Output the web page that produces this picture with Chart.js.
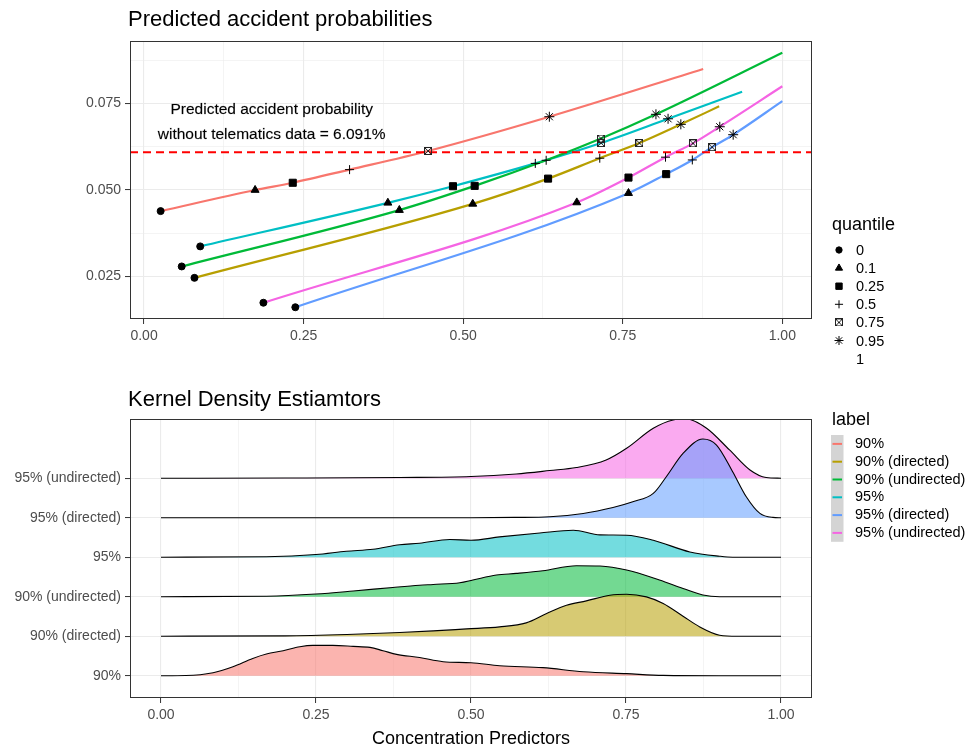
<!DOCTYPE html>
<html>
<head>
<meta charset="utf-8">
<script src="https://cdn.jsdelivr.net/npm/chart.js@4.4.1/dist/chart.umd.min.js"></script>
<style>
  body { margin: 0; background: #fff; font-family: "Liberation Sans", Arial, Helvetica, sans-serif; }
  #wrap { position: relative; width: 969px; height: 747px; overflow: hidden; }
  canvas { position: absolute; left: 0; }
  .t { position: absolute; line-height: 1; white-space: nowrap; color: #000; }
  .title { font-size: 22px; }
  .ltitle { font-size: 18px; }
  .item { font-size: 14.5px; }
</style>
</head>
<body>
<div id="wrap">
  <canvas id="probChart" width="969" height="360" style="top:0"></canvas>
  <canvas id="ridgeChart" width="969" height="377" style="top:370px"></canvas>
  <div class="t title" style="left:128px;top:8px">Predicted accident probabilities</div>
  <div class="t title" style="left:128px;top:388px">Kernel Density Estiamtors</div>
  <div class="t ltitle" style="left:832px;top:215px">quantile</div>
  <div id="qLegend"></div>
  <div class="t ltitle" style="left:832px;top:410px">label</div>
  <div id="lLegend"></div>
  <div class="t ltitle" style="left:471px;top:729px;transform:translateX(-50%)">Concentration Predictors</div>
</div>
<script>
// categories
const labels = ['90%', '90% (directed)', '90% (undirected)', '95%', '95% (directed)', '95% (undirected)'];
const colors = ['#F8766D', '#B79F00', '#00BA38', '#00BFC4', '#619CFF', '#F564E3'];
const quantiles = ['0', '0.1', '0.25', '0.5', '0.75', '0.95', '1'];
const baseProb = 0.06091;

// top panel: concentration predictor and predicted probability at each quantile
const conc_90  = [0.026, 0.174, 0.233, 0.322, 0.445, 0.635, 0.876];
const prob_90  = [0.0439, 0.0500, 0.0521, 0.0559, 0.0613, 0.0712, 0.0850];
const conc_90d = [0.079, 0.515, 0.633, 0.714, 0.776, 0.841, 0.901];
const prob_90d = [0.0246, 0.0460, 0.0533, 0.0592, 0.0636, 0.0690, 0.0742];
const conc_90u = [0.059, 0.400, 0.518, 0.630, 0.716, 0.802, 1.000];
const prob_90u = [0.0279, 0.0442, 0.0512, 0.0586, 0.0649, 0.0719, 0.0897];
const conc_95  = [0.088, 0.382, 0.484, 0.613, 0.716, 0.821, 0.937];
const prob_95  = [0.0337, 0.0463, 0.0511, 0.0577, 0.0636, 0.0706, 0.0784];
const conc_95d = [0.237, 0.759, 0.818, 0.859, 0.890, 0.923, 1.000];
const prob_95d = [0.0161, 0.0491, 0.0546, 0.0587, 0.0624, 0.0660, 0.0757];
const conc_95u = [0.187, 0.678, 0.759, 0.817, 0.860, 0.902, 1.000];
const prob_95u = [0.0174, 0.0464, 0.0536, 0.0595, 0.0635, 0.0683, 0.0800];

// bottom panel: kernel densities (height in row units)
const kx_90  = [0, 0.04, 0.084, 0.116, 0.148, 0.17, 0.197, 0.224, 0.245, 0.277, 0.31, 0.337, 0.358, 0.38, 0.417, 0.455, 0.5, 0.546, 0.616, 0.681, 0.751, 0.81, 0.9, 1];
const kd_90  = [0, 0.005, 0.076, 0.228, 0.438, 0.549, 0.633, 0.734, 0.767, 0.767, 0.742, 0.716, 0.633, 0.539, 0.461, 0.354, 0.329, 0.253, 0.203, 0.101, 0.051, 0.008, 0, 0];
const kx_90d = [0, 0.2, 0.3, 0.385, 0.439, 0.493, 0.546, 0.589, 0.622, 0.654, 0.686, 0.724, 0.751, 0.783, 0.81, 0.842, 0.869, 0.901, 0.93, 1];
const kd_90d = [0, 0.008, 0.043, 0.094, 0.134, 0.185, 0.235, 0.337, 0.575, 0.785, 0.894, 1.038, 1.063, 0.995, 0.828, 0.506, 0.235, 0.025, 0, 0];
const kx_90u = [0, 0.17, 0.25, 0.31, 0.374, 0.417, 0.439, 0.482, 0.503, 0.541, 0.573, 0.616, 0.67, 0.708, 0.751, 0.804, 0.842, 0.874, 0.901, 1];
const kd_90u = [0, 0.013, 0.068, 0.144, 0.235, 0.291, 0.311, 0.354, 0.423, 0.549, 0.59, 0.658, 0.785, 0.777, 0.676, 0.423, 0.21, 0.043, 0, 0];
const kx_95  = [0, 0.17, 0.25, 0.299, 0.342, 0.385, 0.417, 0.466, 0.5, 0.546, 0.611, 0.665, 0.708, 0.751, 0.794, 0.853, 0.901, 0.922, 1];
const kd_95  = [0, 0.013, 0.068, 0.152, 0.203, 0.316, 0.354, 0.448, 0.43, 0.514, 0.615, 0.684, 0.565, 0.557, 0.43, 0.134, 0.025, 0, 0];
const kx_95d = [0, 0.5, 0.57, 0.627, 0.681, 0.729, 0.761, 0.794, 0.815, 0.842, 0.874, 0.896, 0.922, 0.944, 0.966, 0.987, 1];
const kd_95d = [0, 0, 0.008, 0.025, 0.109, 0.261, 0.405, 0.615, 1.038, 1.628, 1.992, 1.841, 1.165, 0.532, 0.109, 0.008, 0];
const kx_95u = [0, 0.2, 0.385, 0.5, 0.573, 0.627, 0.67, 0.718, 0.751, 0.794, 0.826, 0.847, 0.88, 0.917, 0.95, 0.976, 1];
const kd_95u = [0, 0.005, 0.018, 0.043, 0.109, 0.195, 0.271, 0.463, 0.759, 1.266, 1.476, 1.501, 1.266, 0.716, 0.21, 0.018, 0];

// tick values
const xTickVals = [0, 0.125, 0.25, 0.375, 0.5, 0.625, 0.75, 0.875, 1];
const yTickVals = [0.025, 0.0375, 0.05, 0.0625, 0.075, 0.0875];

const noteLines = ['Predicted accident probability', 'without telematics data = 6.091%'];

const concSets = [conc_90, conc_90d, conc_90u, conc_95, conc_95d, conc_95u];
const probSets = [prob_90, prob_90d, prob_90u, prob_95, prob_95d, prob_95u];
const kxSets = [kx_90, kx_90d, kx_90u, kx_95, kx_95d, kx_95u];
const kdSets = [kd_90, kd_90d, kd_90u, kd_95, kd_95d, kd_95u];

const FONT = "'Liberation Sans', Arial, Helvetica, sans-serif";
Chart.defaults.font.family = FONT;
Chart.defaults.font.size = 14;
Chart.defaults.color = '#4d4d4d';
Chart.defaults.animation = false;

// square with a cross inside (ggplot shape 7)
function boxCross() {
    const c = document.createElement('canvas');
    c.width = 8; c.height = 8;
    const g = c.getContext('2d');
    g.strokeStyle = '#222';
    g.lineWidth = 1;
    g.strokeRect(0.5, 0.5, 7, 7);
    g.beginPath();
    g.moveTo(1, 1); g.lineTo(7, 7);
    g.moveTo(7, 1); g.lineTo(1, 7);
    g.stroke();
    return c;
}
const markerStyles = ['circle', 'triangle', 'rect', 'cross', boxCross(), 'star'];
const markerRadius = [3.5, 4.6, 5, 4.5, 4, 5];

const onStep = (v, step) => Math.abs(v / step - Math.round(v / step)) < 1e-6;

function xAxis(min, max, h) {
    return {
        type: 'linear', min: min, max: max,
        afterBuildTicks: s => { s.ticks = xTickVals.map(v => ({ value: v })); },
        afterFit: s => { s.height = h; },
        ticks: { autoSkip: false, maxRotation: 0, padding: 4,
                 callback: v => onStep(v, 0.25) ? v.toFixed(2) : '' },
        grid: {
            color: '#ebebeb',
            lineWidth: c => (c.tick && !onStep(c.tick.value, 0.25)) ? 0.55 : 1.1,
            tickLength: 5, tickWidth: 1,
            tickColor: c => (c.tick && !onStep(c.tick.value, 0.25)) ? 'rgba(0,0,0,0)' : '#333'
        },
        border: { display: false }
    };
}

const panelBorder = {
    id: 'panelBorder',
    afterDraw(chart) {
        const { ctx, chartArea: a } = chart;
        ctx.save();
        ctx.strokeStyle = '#333';
        ctx.lineWidth = 1;
        ctx.strokeRect(Math.round(a.left) + 0.5, Math.round(a.top) + 0.5,
                       Math.round(a.right - a.left) - 1, Math.round(a.bottom - a.top) - 1);
        ctx.restore();
    }
};

// ---------- top panel ----------
const probDatasets = [];
labels.forEach((lab, i) => {
    probDatasets.push({
        label: lab,
        data: concSets[i].map((x, j) => ({ x: x, y: probSets[i][j] })),
        showLine: true,
        borderColor: colors[i],
        borderWidth: 2.2,
        pointRadius: 0,
        cubicInterpolationMode: 'monotone',
        order: 3
    });
});
probDatasets.push({
    label: 'baseline',
    data: [{ x: -0.022, y: baseProb }, { x: 1.0465, y: baseProb }],
    showLine: true,
    borderColor: '#ff0000',
    borderWidth: 2,
    borderDash: [8, 5],
    pointRadius: 0,
    order: 2
});
markerStyles.forEach((st, q) => {
    probDatasets.push({
        label: 'q' + quantiles[q],
        data: concSets.map((xs, i) => ({ x: xs[q], y: probSets[i][q] })),
        pointStyle: st,
        pointRadius: markerRadius[q],
        backgroundColor: '#000',
        borderColor: '#000',
        borderWidth: 1,
        order: 1
    });
});

const noteAndLegend = {
    id: 'noteAndLegend',
    afterDraw(chart) {
        const ctx = chart.ctx;
        const sx = chart.scales.x, sy = chart.scales.y;
        ctx.save();
        ctx.fillStyle = '#000';
        ctx.strokeStyle = 'rgba(0,0,0,0.35)';
        ctx.lineWidth = 0.4;
        ctx.font = '15.5px ' + FONT;
        ctx.textAlign = 'center';
        ctx.textBaseline = 'middle';
        const cx = sx.getPixelForValue(0.2), cy = sy.getPixelForValue(0.0695);
        ctx.fillText(noteLines[0], cx, cy - 12.5);
        ctx.strokeText(noteLines[0], cx, cy - 12.5);
        ctx.fillText(noteLines[1], cx, cy + 12.5);
        ctx.strokeText(noteLines[1], cx, cy + 12.5);
        // quantile legend keys
        const drawPoint = Chart.helpers && Chart.helpers.drawPoint;
        if (drawPoint) {
            ctx.strokeStyle = '#000';
            ctx.lineWidth = 1;
            markerStyles.forEach((st, q) => {
                ctx.fillStyle = '#000';
                drawPoint(ctx, { pointStyle: st, radius: markerRadius[q] * 0.9, borderWidth: 1, rotation: 0 },
                          839, 250 + q * 18.1);
            });
        }
        ctx.restore();
    }
};

new Chart(document.getElementById('probChart'), {
    type: 'scatter',
    data: { datasets: probDatasets },
    options: {
        responsive: false,
        layout: { padding: { left: 0, top: 41, right: 157, bottom: 0 } },
        plugins: { legend: { display: false }, tooltip: { enabled: false } },
        scales: {
            x: xAxis(-0.022, 1.0465, 41),
            y: {
                type: 'linear', min: 0.0127, max: 0.0931,
                afterBuildTicks: s => { s.ticks = yTickVals.map(v => ({ value: v })); },
                afterFit: s => { s.width = 130; },
                ticks: { autoSkip: false, padding: 4,
                         callback: v => onStep(v, 0.025) ? v.toFixed(3) : '' },
                grid: {
                    color: '#ebebeb',
                    lineWidth: c => (c.tick && !onStep(c.tick.value, 0.025)) ? 0.55 : 1.1,
                    tickLength: 5, tickWidth: 1,
                    tickColor: c => (c.tick && !onStep(c.tick.value, 0.025)) ? 'rgba(0,0,0,0)' : '#333'
                },
                border: { display: false }
            }
        }
    },
    plugins: [panelBorder, noteAndLegend]
});

// ---------- bottom panel ----------
function alpha(hex, a) {
    const n = parseInt(hex.slice(1), 16);
    return `rgba(${n >> 16}, ${(n >> 8) & 255}, ${n & 255}, ${a})`;
}

const ridgeDatasets = labels.map((lab, i) => ({
    label: lab,
    data: kxSets[i].map((x, j) => ({ x: x, y: i + 1 + kdSets[i][j] })),
    showLine: true,
    borderColor: '#000',
    borderWidth: 1.1,
    backgroundColor: alpha(colors[i], 0.55),
    fill: { value: i + 1 },
    pointRadius: 0,
    cubicInterpolationMode: 'monotone'
}));

const labelKeys = {
    id: 'labelKeys',
    afterDraw(chart) {
        const ctx = chart.ctx;
        ctx.save();
        ctx.fillStyle = '#d4d4d4';
        ctx.fillRect(831, 65, 12.5, 106.8);
        ctx.lineWidth = 2;
        labels.forEach((lab, i) => {
            const y = 65 + 8.9 + i * 17.8;
            ctx.strokeStyle = colors[i];
            ctx.beginPath();
            ctx.moveTo(832.5, y);
            ctx.lineTo(842, y);
            ctx.stroke();
        });
        ctx.restore();
    }
};

new Chart(document.getElementById('ridgeChart'), {
    type: 'scatter',
    data: { datasets: ridgeDatasets },
    options: {
        responsive: false,
        layout: { padding: { left: 0, top: 49, right: 157, bottom: 0 } },
        plugins: { legend: { display: false }, tooltip: { enabled: false } },
        scales: {
            x: xAxis(-0.05, 1.05, 49),
            y: {
                type: 'linear', min: 0.435, max: 7.5,
                afterBuildTicks: s => { s.ticks = labels.map((l, i) => ({ value: i + 1 })); },
                afterFit: s => { s.width = 130; },
                ticks: { autoSkip: false, padding: 4, callback: v => labels[Math.round(v) - 1] },
                grid: { color: '#ebebeb', lineWidth: 1.1, tickLength: 5, tickWidth: 1, tickColor: '#333' },
                border: { display: false }
            }
        }
    },
    plugins: [panelBorder, labelKeys]
});

// legend texts
const qLegend = document.getElementById('qLegend');
quantiles.forEach((q, i) => {
    const d = document.createElement('div');
    d.className = 't item';
    d.style.left = '856px';
    d.style.top = (243 + i * 18.1) + 'px';
    d.textContent = q;
    qLegend.appendChild(d);
});
const lLegend = document.getElementById('lLegend');
labels.forEach((lab, i) => {
    const d = document.createElement('div');
    d.className = 't item';
    d.style.left = '855px';
    d.style.top = (436 + i * 17.8) + 'px';
    d.textContent = lab;
    lLegend.appendChild(d);
});
</script>
</body>
</html>
